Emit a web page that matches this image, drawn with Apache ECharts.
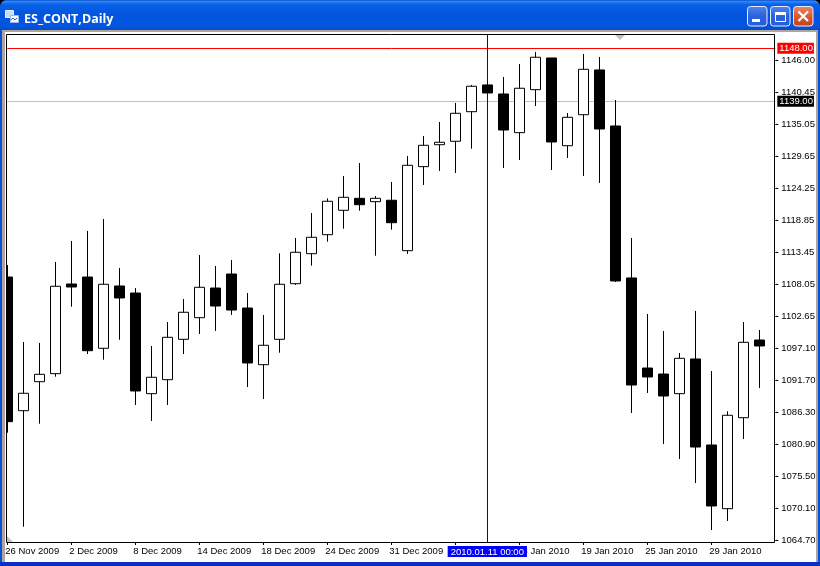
<!DOCTYPE html>
<html><head><meta charset="utf-8">
<style>html,body{margin:0;padding:0;background:#000;overflow:hidden}#c{width:820px;height:566px}</style>
<script src="https://cdn.jsdelivr.net/npm/echarts@6/dist/echarts.min.js"></script>
</head><body><div id="c"></div>
<script>
const chartTitle = 'ES_CONT,Daily';
const dates = ['26 Nov 2009','27 Nov 2009','30 Nov 2009','1 Dec 2009','2 Dec 2009','3 Dec 2009','4 Dec 2009','7 Dec 2009','8 Dec 2009','9 Dec 2009','10 Dec 2009','11 Dec 2009','14 Dec 2009','15 Dec 2009','16 Dec 2009','17 Dec 2009','18 Dec 2009','21 Dec 2009','22 Dec 2009','23 Dec 2009','24 Dec 2009','28 Dec 2009','29 Dec 2009','30 Dec 2009','31 Dec 2009','4 Jan 2010','5 Jan 2010','6 Jan 2010','7 Jan 2010','8 Jan 2010','11 Jan 2010','12 Jan 2010','13 Jan 2010','14 Jan 2010','15 Jan 2010','18 Jan 2010','19 Jan 2010','20 Jan 2010','21 Jan 2010','22 Jan 2010','25 Jan 2010','26 Jan 2010','27 Jan 2010','28 Jan 2010','29 Jan 2010','1 Feb 2010','2 Feb 2010','3 Feb 2010',''];
const opens = [1109.24,1086.60,1091.51,1092.87,1108.06,1109.24,1097.17,1107.72,1106.53,1089.48,1091.85,1098.69,1102.35,1107.38,1109.75,1103.99,1094.39,1098.69,1108.11,1113.19,1116.41,1120.54,1122.57,1122.00,1122.24,1113.70,1127.93,1131.65,1132.23,1137.24,1141.77,1140.24,1133.69,1140.97,1146.34,1131.48,1136.73,1144.31,1134.82,1109.08,1093.83,1092.81,1089.48,1095.36,1080.79,1070.00,1085.41,1098.57];
const closes = [1084.74,1089.55,1092.76,1107.67,1107.55,1096.76,1108.01,1105.69,1089.94,1092.26,1099.03,1103.27,1107.50,1104.33,1103.65,1094.68,1097.68,1108.01,1113.43,1115.97,1122.07,1122.74,1121.49,1122.57,1118.44,1128.16,1131.55,1132.06,1136.97,1141.55,1140.41,1134.14,1141.21,1146.46,1132.11,1136.29,1144.42,1134.31,1108.57,1090.95,1092.31,1089.09,1095.47,1080.45,1070.46,1085.82,1098.18,1097.56];
const lows = [1082.87,1066.95,1084.40,1092.36,1104.21,1096.20,1095.24,1098.62,1087.56,1084.85,1087.56,1096.20,1099.59,1100.10,1102.81,1090.61,1088.58,1096.42,1107.89,1111.16,1115.22,1117.43,1120.47,1112.85,1117.26,1113.14,1124.83,1127.20,1126.86,1130.98,1140.41,1127.71,1129.06,1138.21,1127.37,1129.40,1126.35,1125.17,1108.40,1086.21,1089.60,1080.96,1078.42,1074.35,1066.39,1067.92,1081.80,1090.44];
const highs = [1111.28,1098.23,1098.07,1111.79,1115.34,1117.04,1119.07,1110.77,1107.38,1097.56,1101.62,1105.52,1112.97,1111.11,1112.12,1106.53,1102.81,1113.26,1115.85,1120.08,1122.57,1126.35,1128.55,1122.96,1125.34,1129.74,1133.13,1135.50,1138.72,1141.77,1141.77,1143.12,1145.32,1147.36,1146.34,1137.02,1147.02,1146.51,1139.22,1115.85,1102.98,1100.10,1096.37,1103.49,1093.32,1086.50,1101.62,1100.27];
const priceTicks = [1146.00,1140.45,1135.05,1129.65,1124.25,1118.85,1113.45,1108.05,1102.65,1097.10,1091.70,1086.30,1080.90,1075.50,1070.10,1064.70];
const redLevel = 1148.00;
const bidLevel = 1139.00;
const crossDate = '11 Jan 2010';
const crossLabel = '2010.01.11 00:00';

const candles = opens.map((o,i)=>[o,closes[i],lows[i],highs[i]]);
const FONT = '"Liberation Sans", Arial, sans-serif';
const FS = 9.5;
const tickEvery = (i)=> i%4===0 && i<48;

function grad(stops){return new echarts.graphic.LinearGradient(0,0,0,1,stops.map((c,i)=>({offset:c[0],color:c[1]})));}
const btnBlue = ()=>grad([[0,'#4F86EE'],[0.5,'#2B62DE'],[1,'#2A5CD8']]);
const btnRed = ()=>grad([[0,'#E98A6E'],[0.5,'#DC5A32'],[1,'#C43F1C']]);
function btn(x,fill){return {type:'rect',z:-5,shape:{x:x+.5,y:6.5,width:19.5,height:19.5,r:3},style:{fill:fill,stroke:'#E8EEFB',lineWidth:1}};}

const chart = echarts.init(document.getElementById('c'),null,{renderer:'canvas'});
chart.setOption({
  animation:false,
  backgroundColor:'transparent',
  title:{text:chartTitle,left:19,top:8,textStyle:{color:'#fff',fontFamily:'"Open Sans",sans-serif',fontWeight:'bold',fontSize:12.5,textShadowColor:'#0B2E8C',textShadowOffsetX:1,textShadowOffsetY:1,textShadowBlur:0}},
  grid:{left:7.3,top:34,width:768,height:508,show:false},
  xAxis:{type:'category',data:dates,boundaryGap:false,
    axisLine:{show:false},
    axisTick:{show:true,length:3,interval:(i)=>tickEvery(i),lineStyle:{color:'#000',width:1}},
    axisLabel:{show:true,interval:(i)=>tickEvery(i),align:'left',margin:4,padding:[0,0,0,-2],color:'#000',fontFamily:FONT,fontSize:FS,hideOverlap:false},
    splitLine:{show:false}
  },
  yAxis:{type:'value',position:'right',min:1064.36,max:1150.40,scale:true,
    axisLine:{show:false},
    axisTick:{show:true,length:3,customValues:priceTicks,lineStyle:{color:'#000',width:1}},
    axisLabel:{show:true,customValues:priceTicks,margin:6,color:'#000',fontFamily:FONT,fontSize:FS,formatter:(v)=>v.toFixed(2),showMinLabel:true,showMaxLabel:true},
    splitLine:{show:false}
  },
  series:[
    {type:'line',data:[],clip:false,silent:true,symbol:'none',
     markLine:{silent:true,symbol:'none',z:1,animation:false,precision:2,
       data:[
        {yAxis:redLevel,lineStyle:{color:'#FF0000',width:1,type:'solid'},
         label:{show:true,position:'end',distance:2,formatter:redLevel.toFixed(2),color:'#fff',backgroundColor:'#FF0000',padding:[1,1,0,2],lineHeight:10,fontFamily:FONT,fontSize:FS}},
        {yAxis:bidLevel,lineStyle:{color:'#C0C0C0',width:1,type:'solid'},
         label:{show:true,position:'end',distance:2,formatter:bidLevel.toFixed(2),color:'#fff',backgroundColor:'#000',padding:[1,1,0,2],lineHeight:10,fontFamily:FONT,fontSize:FS}},
        {xAxis:crossDate,lineStyle:{color:'#0000C8',width:1,type:'solid'},
         label:{show:true,position:'start',distance:4,formatter:crossLabel,color:'#fff',backgroundColor:'#0000FF',padding:[1,3,0,3],lineHeight:10,fontFamily:FONT,fontSize:FS}}
       ]}
    },
    {type:'candlestick',z:2,data:candles,barWidth:10,silent:true,clip:true,
     itemStyle:{color:'#FFFFFF',color0:'#000000',borderColor:'#000000',borderColor0:'#000000',borderWidth:1}}
  ],
  graphic:{elements:[
    {type:'rect',z:-10,shape:{x:0,y:0,width:820,height:566,r:[7,7,0,0]},style:{fill:'#0A50DC'}},
    {type:'rect',z:-9,shape:{x:0,y:0,width:820,height:30,r:[7,7,0,0]},style:{fill:grad([[0,'#0A4FC8'],[0.05,'#2F86F5'],[0.14,'#0A62EA'],[0.5,'#0254DC'],[0.85,'#0256E2'],[1,'#0A4BC4']])}},
    {type:'rect',z:-9,shape:{x:2,y:30,width:816,height:532},style:{fill:'#ACA899'}},
    {type:'rect',z:-8,shape:{x:5,y:32,width:811,height:530},style:{fill:'#FFFFFF'}},
    {type:'rect',z:-9,shape:{x:0,y:562,width:820,height:4},style:{fill:'#0631C8'}},
    {type:'rect',z:5,shape:{x:0,y:262,width:2,height:172},style:{fill:'#0A50DC'}},
    {type:'rect',z:5,shape:{x:2,y:262,width:3,height:172},style:{fill:'#ACA899'}},
    {type:'rect',z:5,shape:{x:5,y:262,width:1,height:172},style:{fill:'#FFFFFF'}},
    btn(747,btnBlue()),btn(770,btnBlue()),btn(793,btnRed()),
    {type:'rect',z:-4,shape:{x:752,y:19,width:8,height:3},style:{fill:'#fff'}},
    {type:'rect',z:-4,shape:{x:775.5,y:12.5,width:10,height:9},style:{fill:'transparent',stroke:'#fff',lineWidth:1}},
    {type:'rect',z:-4,shape:{x:775,y:12,width:11,height:3},style:{fill:'#fff'}},
    {type:'line',z:-4,shape:{x1:798.5,y1:11.5,x2:808,y2:21},style:{stroke:'#fff',lineWidth:2.2}},
    {type:'line',z:-4,shape:{x1:808,y1:11.5,x2:798.5,y2:21},style:{stroke:'#fff',lineWidth:2.2}},
    {type:'rect',z:-4,shape:{x:5.5,y:10.5,width:8,height:7},style:{fill:'#C8DCF8',stroke:'#E8F0FF',lineWidth:1}},
    {type:'rect',z:-4,shape:{x:10.5,y:15.5,width:8,height:7},style:{fill:'#F4F8FF',stroke:'#9AB8E8',lineWidth:1}},
    {type:'polyline',z:-3,shape:{points:[[11,20],[13,18],[15,20],[17,18]]},style:{stroke:'#3060B0',lineWidth:1,fill:'none'}},
    {type:'rect',z:4,shape:{x:6.5,y:34.5,width:768,height:508},style:{fill:'transparent',stroke:'#000',lineWidth:1}},
    {type:'polygon',z:3,shape:{points:[[615,35],[625,35],[620,40]]},style:{fill:'#C0C0C0'}},
    {type:'polygon',z:3,shape:{points:[[7,536],[7,542],[13,542]]},style:{fill:'#C0C0C0'}}
  ]}
});
</script></body></html>
